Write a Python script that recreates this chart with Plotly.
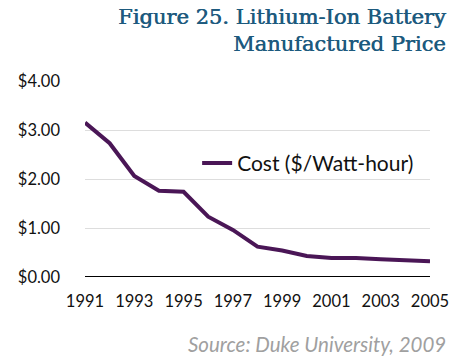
import plotly.graph_objects as go

years = list(range(1991, 2006))
cost = [3.15, 2.73, 2.06, 1.76, 1.74, 1.23, 0.96, 0.62, 0.54, 0.43, 0.39, 0.39, 0.36, 0.35, 0.32]
x_ticks = [1991, 1993, 1995, 1997, 1999, 2001, 2003, 2005]
y_ticks = [0, 1, 2, 3, 4]
y_tick_labels = ["$0.00", "$1.00", "$2.00", "$3.00", "$4.00"]

fig = go.Figure()
fig.add_trace(go.Scatter(x=years, y=cost, mode="lines", name="Cost ($/Watt-hour)",
                         line=dict(color="#4a1656", width=4)))

fig.update_layout(
    width=453, height=359,
    margin=dict(l=85, r=23, t=81, b=82, autoexpand=False),
    paper_bgcolor="white", plot_bgcolor="white",
    font=dict(family="Lato, Open Sans, sans-serif", size=16, color="#111111"),
    showlegend=True,
    legend=dict(x=0.325, y=0.58, xanchor="left", yanchor="middle",
                font=dict(size=21, color="#111111"), bgcolor="rgba(0,0,0,0)",
                itemwidth=30),
    xaxis=dict(range=[1991, 2005], tickvals=x_ticks, showgrid=False, zeroline=False,
               showline=False, ticks="", tickfont=dict(size=16.5), automargin=False,
               ticklabelstandoff=12),
    yaxis=dict(range=[0, 4], tickvals=y_ticks, ticktext=y_tick_labels,
               showgrid=True, gridcolor="#dddddd", gridwidth=1, zeroline=False,
               showline=False, ticks="", ticklabelstandoff=24, tickfont=dict(size=16.5),
               automargin=False),
    shapes=[dict(type="line", xref="paper", yref="y", x0=0, x1=1, y0=0, y1=0,
                 line=dict(color="black", width=2))],
    annotations=[
        dict(text="Figure 25. Lithium-Ion Battery<br>Manufactured Price",
             xref="paper", yref="paper",
             x=1.052, y=1.40, xanchor="right", yanchor="top", showarrow=False, align="right",
             font=dict(family="DejaVu Serif, serif", size=21, color="#1d5a7e",
                       shadow="0.6px 0px 0px #1d5a7e")),
        dict(text="<i>Source: Duke University, 2009</i>", xref="paper", yref="paper",
             x=1.052, y=-0.342, xanchor="right", yanchor="middle", showarrow=False,
             font=dict(size=20.5, color="#a0a0a0")),
    ],
)

fig.write_html("out.html", config={"displayModeBar": False},
               post_script="document.body.style.margin='0';document.body.style.overflow='hidden';")
